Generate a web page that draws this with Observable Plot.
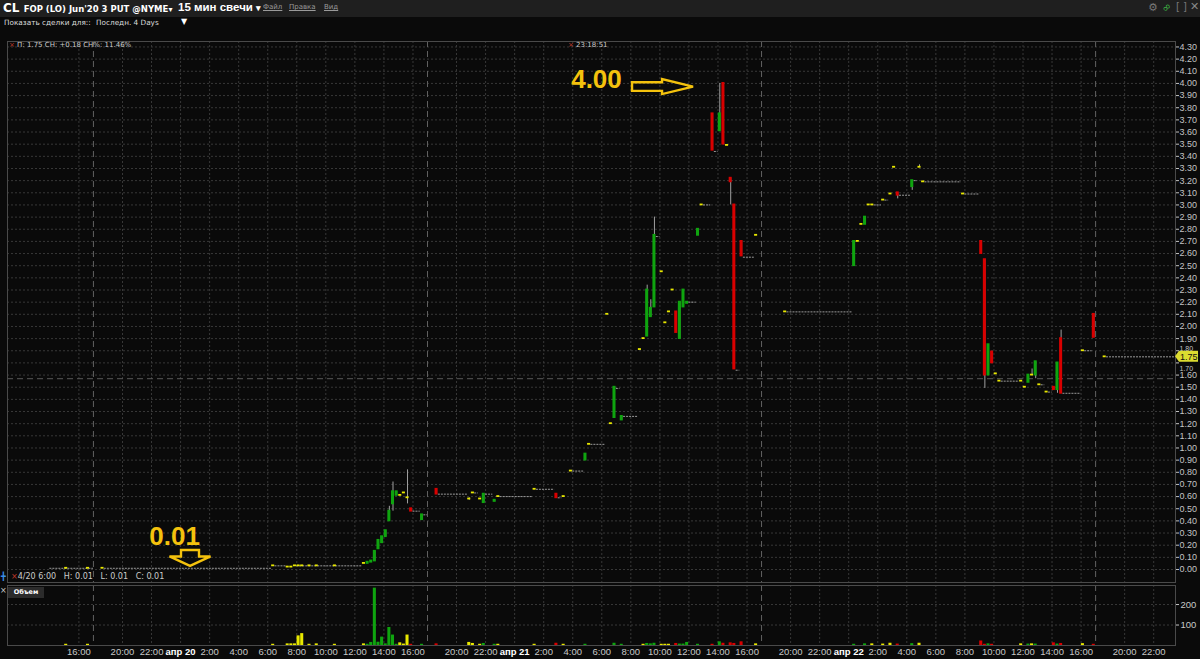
<!DOCTYPE html>
<html><head><meta charset="utf-8">
<script src="https://cdn.jsdelivr.net/npm/d3@7"></script>
<script src="https://cdn.jsdelivr.net/npm/@observablehq/plot@0.6"></script>
<style>
html,body{margin:0;padding:0;background:#0a0a0a;}
#wrap{position:relative;width:1200px;height:659px;background:#0a0a0a;overflow:hidden;font-family:"DejaVu Sans",sans-serif;color:#ddd;}
.abs{position:absolute;white-space:nowrap;line-height:1;}
</style></head><body>
<div id="wrap">
  <div class="abs" style="left:0;top:0;width:1200px;height:17px;background:#1f1f1f"></div>
  <div id="price" class="abs" style="left:0;top:36px"></div>
  <div id="vol" class="abs" style="left:0;top:584px"></div>

  <div class="abs" style="left:3px;top:2px;font-family:'DejaVu Sans';font-weight:bold;font-size:12px;color:#fff">CL <span style="font-size:8.5px">FOP (LO) Jun'20 3 PUT @NYME</span><span style="font-size:8px">&#9662;</span></div>
  <div class="abs" style="left:178px;top:2px;font-family:'Liberation Sans';font-weight:bold;font-size:11.5px;color:#fff">15 мин свечи <span style="font-size:9px">&#9662;</span></div>
  <div class="abs" style="left:263px;top:4px;font-size:7px;color:#9a9a9a;text-decoration:underline">Файл</div>
  <div class="abs" style="left:289px;top:4px;font-size:7px;color:#9a9a9a;text-decoration:underline">Правка</div>
  <div class="abs" style="left:324px;top:4px;font-size:7px;color:#9a9a9a;text-decoration:underline">Вид</div>
  <div class="abs" style="left:1148px;top:2px;font-size:11px;color:#777">&#9881;</div>
  <div class="abs" style="left:1162px;top:2px;font-size:11px;color:#3cb043;transform:rotate(-45deg)">&#8734;</div>
  <div class="abs" style="left:1176px;top:2px;font-size:10px;color:#777">[ ]</div>
  <div class="abs" style="left:1190px;top:1px;font-size:11px;color:#888">&#10005;</div>

  <div class="abs" style="left:4px;top:19px;font-size:7.3px;color:#ddd">Показать сделки для::</div>
  <div class="abs" style="left:96px;top:19px;font-size:7.3px;color:#ddd">Последн. 4 Days</div>
  <div class="abs" style="left:181px;top:18px;font-size:8px;color:#fff">&#9660;</div>

  <div class="abs" style="left:9px;top:42px;font-size:7px;color:#ccc"><span style="color:#c0392b">×</span> П: 1.75 CH: +0.18 CH%: 11.46%</div>
  <div class="abs" style="left:568px;top:42px;font-size:7px;color:#ccc"><span style="color:#c0392b">×</span> 23:18:51</div>

  <div class="abs" style="left:1px;top:573px;font-size:8px;color:#3a8ee6">&#9547;</div>
  <div class="abs" style="left:11px;top:573px;font-size:8px;color:#ccc"><span style="color:#c0392b">×</span>4/20 6:00&nbsp;&nbsp;&nbsp;H: 0.01&nbsp;&nbsp;&nbsp;L: 0.01&nbsp;&nbsp;&nbsp;C: 0.01</div>

  <div class="abs" style="left:0px;top:587px;font-size:8px;color:#ccc">×</div>
  <div class="abs" style="left:8px;top:587px;width:36px;height:11px;background:#2b2b2b;font-size:6.5px;font-weight:bold;color:#fff;text-align:center;line-height:11px">Объем</div>
</div>
<script>
// ---------- data ----------
const candleTime = [
  "4/17 15:00","4/17 16:30","4/19 18:30",
  "4/20 6:15","4/20 7:15","4/20 7:30","4/20 7:45","4/20 8:00","4/20 8:15","4/20 8:45","4/20 9:15","4/20 10:30",
  "4/20 12:30","4/20 12:45","4/20 13:00","4/20 13:15","4/20 13:30","4/20 13:45","4/20 14:00","4/20 14:15","4/20 14:30","4/20 14:45",
  "4/20 15:00","4/20 15:15","4/20 15:30","4/20 15:45","4/20 16:30",
  "4/20 18:30","4/20 20:45","4/20 21:00","4/20 21:30","4/20 21:45","4/20 22:30","4/20 22:45",
  "4/21 1:15","4/21 2:45","4/21 3:15","4/21 3:45","4/21 4:45","4/21 5:00","4/21 6:15","4/21 6:30","4/21 6:45","4/21 7:15",
  "4/21 8:30","4/21 8:45","4/21 9:00","4/21 9:15","4/21 9:30","4/21 10:00","4/21 10:15","4/21 10:30","4/21 10:45","4/21 11:00",
  "4/21 11:15","4/21 11:30","4/21 11:45","4/21 12:30","4/21 12:45","4/21 13:30","4/21 14:00","4/21 14:15","4/21 14:30","4/21 14:45",
  "4/21 15:00","4/21 15:30","4/21 16:30",
  "4/21 19:30",
  "4/22 0:15","4/22 0:30","4/22 0:45","4/22 1:00","4/22 1:15","4/22 1:30","4/22 2:15","4/22 2:45","4/22 3:00","4/22 3:15",
  "4/22 4:15","4/22 4:45","4/22 5:00","4/22 7:45","4/22 9:00","4/22 9:15","4/22 9:30","4/22 9:45","4/22 10:00","4/22 10:15",
  "4/22 11:45","4/22 12:00","4/22 12:15","4/22 12:30","4/22 12:45","4/22 13:00","4/22 13:30","4/22 14:00","4/22 14:15","4/22 14:30",
  "4/22 16:00","4/22 16:45",
  "4/22 18:30"
];
const candleOpen = [
  .01,.01,.01,
  .03,.02,.02,.03,.03,.03,.03,.03,.03,
  .05,.05,.06,.07,.17,.22,.27,.40,.54,.61,
  .61,.63,.59,.50,.41,
  .66,.58,.63,.58,.55,.56,.60,
  .66,.62,.60,.81,.90,1.03,2.10,1.20,1.25,1.23,
  1.81,1.90,1.92,2.08,2.16,2.45,2.03,2.12,2.30,2.12,
  1.90,2.16,2.19,2.75,3.00,3.75,3.61,4.00,3.49,3.22,
  3.00,2.70,2.75,
  2.12,
  2.50,2.70,2.84,2.84,3.00,3.00,3.04,3.09,3.31,3.10,
  3.15,3.31,3.19,3.09,2.70,2.55,1.60,1.79,1.61,1.55,
  1.55,1.50,1.54,1.60,1.60,1.52,1.46,1.50,1.48,1.90,
  1.80,2.10,
  1.75
];
const candleHigh = [
  .01,.01,.01,
  .03,.02,.02,.03,.03,.03,.03,.03,.03,
  .05,.06,.07,.15,.24,.27,.32,.52,.72,.64,
  .61,.63,.82,.50,.45,
  .66,.59,.63,.58,.62,.57,.60,
  .66,.62,.60,.81,.95,1.03,2.10,1.20,1.50,1.26,
  1.81,1.90,2.34,2.22,2.90,2.45,2.03,2.12,2.30,2.12,
  2.20,2.30,2.20,2.80,3.00,3.75,4.00,4.00,3.49,3.22,
  3.00,2.70,2.75,
  2.12,
  2.70,2.70,2.84,2.90,3.00,3.00,3.04,3.09,3.31,3.10,
  3.20,3.33,3.19,3.09,2.70,2.55,1.85,1.79,1.61,1.55,
  1.55,1.50,1.60,1.65,1.71,1.52,1.46,1.50,1.70,1.97,
  1.80,2.10,
  1.75
];
const candleLow = [
  .01,.01,.01,
  .03,.02,.02,.03,.03,.03,.03,.03,.03,
  .05,.05,.06,.07,.17,.22,.27,.40,.48,.61,
  .61,.63,.54,.48,.41,
  .62,.57,.63,.58,.55,.56,.60,
  .66,.59,.60,.81,.90,1.03,2.10,1.20,1.25,1.23,
  1.81,1.90,1.92,2.08,2.16,2.45,2.03,2.12,2.30,1.95,
  1.90,2.16,2.19,2.75,3.00,3.45,3.61,3.50,3.49,3.00,
  1.65,2.58,2.75,
  2.12,
  2.50,2.70,2.84,2.84,3.00,3.00,3.04,3.09,3.31,3.05,
  3.12,3.31,3.19,3.09,2.60,1.49,1.60,1.70,1.61,1.55,
  1.55,1.50,1.54,1.60,1.57,1.52,1.46,1.48,1.45,1.45,
  1.80,1.91,
  1.75
];
const candleClose = [
  .01,.01,.01,
  .03,.02,.02,.03,.03,.03,.03,.03,.03,
  .05,.06,.07,.15,.24,.27,.32,.48,.64,.64,
  .61,.63,.59,.48,.45,
  .62,.58,.63,.58,.62,.57,.60,
  .66,.59,.60,.81,.95,1.03,2.10,1.20,1.50,1.26,
  1.81,1.90,2.30,2.15,2.75,2.45,2.03,2.12,2.30,1.95,
  2.20,2.30,2.20,2.80,3.00,3.45,3.75,3.50,3.49,3.19,
  1.65,2.58,2.75,
  2.12,
  2.70,2.70,2.84,2.90,3.00,3.00,3.04,3.09,3.31,3.08,
  3.20,3.31,3.19,3.09,2.60,1.60,1.85,1.70,1.61,1.55,
  1.55,1.50,1.60,1.60,1.71,1.52,1.46,1.48,1.70,1.45,
  1.80,1.91,
  1.75
];
const candleVolume = [
  6,6,0,
  6,8,8,8,47,58,6,8,6,
  8,6,15,280,16,41,8,88,51,6,
  13,7,51,6,6,
  8,15,10,6,10,6,6,
  6,11,6,0,6,0,0,0,11,6,
  0,6,10,8,11,6,6,6,0,10,
  7,7,15,6,0,6,18,11,0,13,
  10,18,8,
  0,
  6,0,0,8,0,8,7,11,0,7,
  9,11,0,0,22,6,8,6,0,0,
  8,0,7,8,7,0,0,13,7,10,
  9,6,
  0
];
// periods with no trades: last price carried forward (grey dotted)
const flatFrom = ["4/17 14:00","4/19 18:45","4/20 6:30","4/20 8:00","4/20 16:00","4/20 16:45","4/20 18:45","4/20 21:15","4/20 22:00","4/20 23:00",
  "4/21 1:30","4/21 3:00","4/21 4:00","4/21 5:15","4/21 7:00","4/21 7:30","4/21 9:45","4/21 12:00","4/21 13:00","4/21 13:45",
  "4/21 15:15","4/21 15:45","4/21 19:45","4/22 1:45","4/22 2:30","4/22 3:30","4/22 4:30","4/22 5:15","4/22 8:00","4/22 10:30",
  "4/22 13:15","4/22 13:45","4/22 14:45","4/22 16:15","4/22 18:45"];
const flatTo = ["4/17 17:00","4/20 6:15","4/20 7:15","4/20 12:30","4/20 16:30","4/20 17:00","4/20 20:45","4/20 21:30","4/20 22:30","4/21 1:15",
  "4/21 2:45","4/21 3:15","4/21 4:45","4/21 6:15","4/21 7:15","4/21 8:30","4/21 10:00","4/21 12:30","4/21 13:30","4/21 14:00",
  "4/21 15:30","4/21 16:30","4/22 0:15","4/22 2:15","4/22 2:45","4/22 4:15","4/22 4:45","4/22 7:45","4/22 9:00","4/22 11:45",
  "4/22 13:30","4/22 14:00","4/22 16:00","4/22 16:45","4/22 23:30"];
const flatPrice = [.01,.01,.03,.03,.48,.45,.62,.63,.62,.60,
  .66,.59,.81,1.03,1.49,1.26,2.74,2.20,3.00,3.44,
  1.64,2.57,2.12,3.00,3.04,3.08,3.20,3.19,3.09,1.55,
  1.52,1.46,1.45,1.80,1.75];

const timeTicks = ["4/17 16:00",
  "4/19 20:00","4/19 22:00","4/20 0:00","4/20 2:00","4/20 4:00","4/20 6:00","4/20 8:00","4/20 10:00","4/20 12:00","4/20 14:00","4/20 16:00",
  "4/20 20:00","4/20 22:00","4/21 0:00","4/21 2:00","4/21 4:00","4/21 6:00","4/21 8:00","4/21 10:00","4/21 12:00","4/21 14:00","4/21 16:00",
  "4/21 20:00","4/21 22:00","4/22 0:00","4/22 2:00","4/22 4:00","4/22 6:00","4/22 8:00","4/22 10:00","4/22 12:00","4/22 14:00","4/22 16:00",
  "4/22 20:00","4/22 22:00"];
const sessionBreaks = ["4/17 17:00","4/20 17:00","4/21 17:00","4/22 17:00"];
const priceTicks = d3.range(44).map(i => i / 10);
const volumeTicks = [100, 200];
const viewStart = "4/17 11:05", viewEnd = "4/22 23:30";
const lastPrice = 1.75;
const crosshairPrice = 1.57;
const noteText = ["4.00", "0.01"];
const noteTime = ["4/21 5:38", "4/19 23:35"];
const notePrice = [4.03, 0.27];
const rightArrow = {from: "4/21 8:07", to: "4/21 12:19", price: 3.97};
const downArrow = {time: "4/20 0:41", from: 0.156, to: 0.025};

// ---------- helpers ----------
// trading-hour index: the 17:00-18:00 daily break is removed; weekend removed
const dayBase = {17: -17, 20: 6, 21: 29, 22: 52, 23: 75};
function T(s) {
  const [md, hm] = s.split(" ");
  const day = +md.split("/")[1];
  const [h, m] = hm.split(":").map(Number);
  const hour = h + m / 60;
  if (hour >= 18) return dayBase[day === 19 ? 20 : day + 1] - 24 + hour;
  return dayBase[day] + hour;
}
const tickLabel = new Map(timeTicks.map(s => {
  const [md, hm] = s.split(" ");
  const h = +hm.split(":")[0];
  return [T(s), h === 0 ? "апр " + md.split("/")[1] : hm];
}));

const GREEN = "#0fa40f", RED = "#d90000", YELLOW = "#e8e800", GREY = "#a0a0a0";
const candles = candleTime.map((s, i) => {
  const o = candleOpen[i], c = candleClose[i];
  return {t: T(s), o, h: candleHigh[i], l: candleLow[i], c, v: candleVolume[i],
    color: c > o ? GREEN : c < o ? RED : YELLOW};
});
const flats = flatFrom.map((s, i) => ({t1: T(s), t2: T(flatTo[i]), p: flatPrice[i]}));
const xDomain = [T(viewStart), T(viewEnd)];
const gridStyle = {stroke: "#383838", strokeOpacity: 1, strokeDasharray: "2,2"};
const breakStyle = {stroke: "#626262", strokeOpacity: 1, strokeDasharray: "6,4"};

// ---------- price panel ----------
const price = Plot.plot({
  width: 1200, height: 548,
  marginTop: 5, marginBottom: 2, marginLeft: 7, marginRight: 25,
  style: {background: "transparent", color: "#c4c4c4", fontFamily: "'Liberation Sans', Arial, sans-serif", fontSize: "9px", overflow: "visible"},
  x: {domain: xDomain, axis: null},
  y: {domain: [-0.107, 4.345], axis: "right", ticks: priceTicks, tickFormat: d => d.toFixed(2), tickSize: 3, tickPadding: 1, label: null},
  marks: [
    Plot.ruleY(priceTicks, {...gridStyle}),
    Plot.ruleX(timeTicks, {x: T, ...gridStyle}),
    Plot.ruleX(sessionBreaks, {x: T, ...breakStyle}),
    Plot.ruleY([crosshairPrice], {stroke: "#5a5a5a", strokeDasharray: "6,4"}),
    Plot.ruleY(flats, {x1: "t1", x2: "t2", y: "p", stroke: "#9a9a9a", strokeDasharray: "2,1"}),
    Plot.ruleX(candles, {x: d => d.t + 0.125, y1: "l", y2: "h", stroke: GREY}),
    Plot.rect(candles, {x1: d => d.t + 0.02, x2: d => d.t + 0.23, y1: d => Math.min(d.o, d.c), y2: d => Math.max(d.o, d.c),
      fill: "color", insetTop: -0.9, insetBottom: -0.9}),
    Plot.text(noteText, {x: (d, i) => T(noteTime[i]), y: (d, i) => notePrice[i], text: d => d,
      fill: "#f4c20d", fontSize: 26, fontWeight: "bold", fontFamily: "'Liberation Sans', Arial, sans-serif"}),
    Plot.frame({stroke: "#4a4a4a"})
  ]
});
document.getElementById("price").appendChild(price);
{
  const xs = price.scale("x"), ys = price.scale("y");
  const svg = d3.select(price);
  const g = svg.append("g").attr("fill", "none").attr("stroke", "#f4c20d").attr("stroke-width", 2.4).attr("stroke-linejoin", "miter");
  const x1 = xs.apply(T(rightArrow.from)), x2 = xs.apply(T(rightArrow.to)), yc = ys.apply(rightArrow.price);
  const hh = 7.5, sh = 4.3, hl = 31;
  g.append("path").attr("d", `M${x1},${yc - sh}H${x2 - hl}V${yc - hh}L${x2},${yc}L${x2 - hl},${yc + hh}V${yc + sh}H${x1}Z`);
  const xc = xs.apply(T(downArrow.time)), y1 = ys.apply(downArrow.from), y2 = ys.apply(downArrow.to);
  const hw = 20.5, sw = 9, dl = 9.5;
  g.append("path").attr("d", `M${xc - sw},${y1}H${xc + sw}V${y2 - dl}H${xc + hw}L${xc},${y2}L${xc - hw},${y2 - dl}H${xc - sw}Z`);
  // the two axis labels next to the last-price tag are shrunk and nudged clear of it
  svg.selectAll("text").filter(function () { const t = this.textContent; return t === "1.80" || t === "1.70"; })
    .attr("font-size", 7)
    .attr("dy", function () { return this.textContent === "1.80" ? "-0.24em" : "0.8em"; });
  // last price tag
  const yl = ys.apply(lastPrice), xr = 1200 - 25;
  const tag = svg.append("g");
  tag.append("path").attr("d", `M${xr},${yl}L${xr + 4},${yl - 5.5}H${xr + 23}V${yl + 5.5}H${xr + 4}Z`).attr("fill", "#dcdc30");
  tag.append("text").attr("x", xr + 5).attr("y", yl).attr("dy", "0.36em").attr("font-size", 9).attr("text-anchor", "start")
    .attr("font-family", "'Liberation Sans', Arial, sans-serif").attr("fill", "#111").text(lastPrice.toFixed(2));
}

// ---------- volume panel ----------
const vol = Plot.plot({
  width: 1200, height: 75,
  marginTop: 1, marginBottom: 14, marginLeft: 7, marginRight: 25,
  style: {background: "transparent", color: "#c8c8c8", fontFamily: "'Liberation Sans', Arial, sans-serif", fontSize: "9.5px", overflow: "visible"},
  x: {domain: xDomain, ticks: timeTicks.map(T), tickFormat: t => tickLabel.get(t) ?? "", tickSize: 0, tickPadding: 3, label: null},
  y: {domain: [0, 293], axis: "right", ticks: volumeTicks, tickSize: 3, tickPadding: 2, label: null},
  marks: [
    Plot.ruleY(volumeTicks, {...gridStyle}),
    Plot.ruleX(timeTicks, {x: T, ...gridStyle}),
    Plot.ruleX(sessionBreaks, {x: T, ...breakStyle}),
    Plot.rect(candles.filter(d => d.v > 0), {x1: d => d.t + 0.02, x2: d => d.t + 0.23, y1: 0, y2: "v", fill: "color"}),
    Plot.frame({stroke: "#4a4a4a"})
  ]
});
document.getElementById("vol").appendChild(vol);
d3.select(vol).selectAll("text").filter(function () { return this.textContent.startsWith("апр"); })
  .attr("font-weight", "bold").attr("fill", "#ffffff");
</script>
</body></html>
